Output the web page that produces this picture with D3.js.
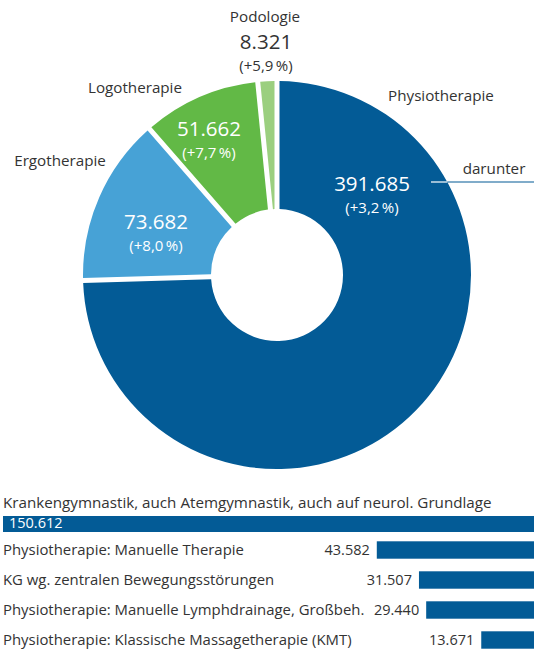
<!DOCTYPE html>
<html>
<head>
<meta charset="utf-8">
<script src="https://cdn.jsdelivr.net/npm/d3@7"></script>
<style>
body { margin: 0; background: #fff; }
svg { display: block; font-family: "Open Sans", sans-serif; }
</style>
</head>
<body>
<div id="chart"></div>
<script>
// donut data
var segNames = ["Physiotherapie", "Ergotherapie", "Logotherapie", "Podologie"];
var segValues = [391685, 73682, 51662, 8321];
var segChange = ["+3,2", "+8,0", "+7,7", "+5,9"];
var segColors = ["#035b96", "#47a2d6", "#62b946", "#9bcf7f"];

// "darunter" bars
var barLabels = [
  "Krankengymnastik, auch Atemgymnastik, auch auf neurol. Grundlage",
  "Physiotherapie: Manuelle Therapie",
  "KG wg. zentralen Bewegungsstörungen",
  "Physiotherapie: Manuelle Lymphdrainage, Großbeh.",
  "Physiotherapie: Klassische Massagetherapie (KMT)"
];
var barValues = [150612, 43582, 31507, 29440, 13671];

var width = 534, height = 655;
var cx = 277, cy = 275;
var rOuter = 194, rInner = 66;
var fs = 15.2;

var fmt = d3.formatLocale({decimal: ",", thousands: ".", grouping: [3]}).format(",d");

var svg = d3.select("#chart").append("svg")
  .attr("width", width)
  .attr("height", height);

var pie = d3.pie().sort(null).value(function(d) { return d; });
var arc = d3.arc().innerRadius(rInner).outerRadius(rOuter)
  .padAngle(5 / rOuter).padRadius(rOuter);

var arcs = pie(segValues);

var g = svg.append("g").attr("transform", "translate(" + cx + "," + cy + ")");

g.selectAll("path")
  .data(arcs)
  .enter().append("path")
  .attr("d", arc)
  .attr("fill", function(d, i) { return segColors[i]; });

// leader line for "darunter"
var lineY = 182 - cy;
var edgeX = Math.sqrt(rOuter * rOuter - lineY * lineY);
g.append("line")
  .attr("x1", 431 - cx).attr("x2", edgeX)
  .attr("y1", lineY).attr("y2", lineY)
  .attr("stroke", "#fff").attr("stroke-width", 1.2);
g.append("line")
  .attr("x1", edgeX).attr("x2", width - cx)
  .attr("y1", lineY).attr("y2", lineY)
  .attr("stroke", "#035b96").attr("stroke-width", 1.2);

// label layout
var namePos = [[441, 101], [60, 166], [135, 93], [265, 22]];
var valPos = [[372, 191], [156, 229], [209, 136], [266, 49]];
var valColor = ["#fff", "#fff", "#fff", "#333"];

svg.selectAll(".segname")
  .data(segNames)
  .enter().append("text")
  .attr("class", "segname")
  .attr("x", function(d, i) { return namePos[i][0]; })
  .attr("y", function(d, i) { return namePos[i][1]; })
  .attr("text-anchor", "middle")
  .attr("font-size", fs)
  .attr("fill", "#333")
  .text(function(d) { return d; });

svg.selectAll(".segval")
  .data(segValues)
  .enter().append("text")
  .attr("class", "segval")
  .attr("x", function(d, i) { return valPos[i][0]; })
  .attr("y", function(d, i) { return valPos[i][1]; })
  .attr("text-anchor", "middle")
  .attr("font-size", 20.5)
  .attr("fill", function(d, i) { return valColor[i]; })
  .text(function(d) { return fmt(d); });

svg.selectAll(".segchg")
  .data(segChange)
  .enter().append("text")
  .attr("class", "segchg")
  .attr("x", function(d, i) { return valPos[i][0]; })
  .attr("y", function(d, i) { return valPos[i][1] + 21.5; })
  .attr("text-anchor", "middle")
  .attr("font-size", 15)
  .attr("fill", function(d, i) { return valColor[i]; })
  .text(function(d) { return "(" + d + "\u2009%)"; });

svg.append("text")
  .attr("x", 494).attr("y", 174)
  .attr("text-anchor", "middle")
  .attr("font-size", fs)
  .attr("fill", "#333")
  .text("darunter");

// bars
var xw = d3.scaleLinear().domain([0, d3.max(barValues)]).range([5, 531]);
var yb = d3.scaleBand().domain(barLabels.slice(1)).range([535, 655]).paddingInner(0.42).paddingOuter(0.21);
var right = width;

// first bar: label above, value inside
svg.append("text")
  .attr("x", 3).attr("y", 508)
  .attr("font-size", fs).attr("fill", "#333")
  .text(barLabels[0]);
svg.append("rect")
  .attr("x", right - xw(barValues[0])).attr("y", 516)
  .attr("width", xw(barValues[0])).attr("height", 16)
  .attr("fill", "#035b96");
svg.append("text")
  .attr("x", 9).attr("y", 528)
  .attr("font-size", 14.5).attr("fill", "#fff")
  .text(fmt(barValues[0]));

var rows = svg.selectAll(".row")
  .data(barLabels.slice(1).map(function(l, i) { return {label: l, value: barValues[i + 1]}; }))
  .enter().append("g").attr("class", "row");

rows.append("rect")
  .attr("x", function(d) { return right - xw(d.value); })
  .attr("y", function(d) { return yb(d.label); })
  .attr("width", function(d) { return xw(d.value); })
  .attr("height", yb.bandwidth())
  .attr("fill", "#035b96");

rows.append("text")
  .attr("x", 3)
  .attr("y", function(d) { return yb(d.label) + yb.bandwidth() / 2; })
  .attr("dy", "0.36em")
  .attr("font-size", 14.9).attr("fill", "#333")
  .text(function(d) { return d.label; });

rows.append("text")
  .attr("x", function(d) { return right - xw(d.value) - 7; })
  .attr("y", function(d) { return yb(d.label) + yb.bandwidth() / 2; })
  .attr("dy", "0.36em")
  .attr("text-anchor", "end")
  .attr("font-size", 14.5).attr("fill", "#333")
  .text(function(d) { return fmt(d.value); });
</script>
</body>
</html>
